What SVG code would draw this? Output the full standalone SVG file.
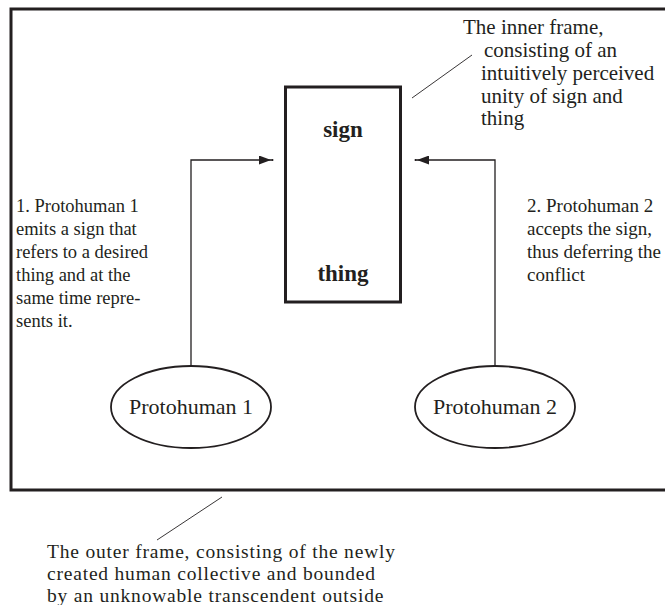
<svg xmlns="http://www.w3.org/2000/svg" width="665" height="605" viewBox="0 0 665 605">
<style>
text{font-family:"Liberation Serif","Times New Roman",serif;fill:#231f20}
.t{font-size:18.5px}
.r{font-size:19px}
.n{font-size:21px}
.o{font-size:19.5px;letter-spacing:0.8px}
.b{font-size:23px;font-weight:bold}
.e{font-size:22px}
.frame{fill:none;stroke:#231f20;stroke-width:3}
.el{fill:none;stroke:#231f20;stroke-width:1.8}
.c{fill:none;stroke:#231f20;stroke-width:1.3}
.l{fill:none;stroke:#231f20;stroke-width:0.9}
</style>
<defs>
<marker id="ah" viewBox="0 0 15 9" refX="14" refY="4.5" markerWidth="15" markerHeight="9" markerUnits="userSpaceOnUse" orient="auto">
<path d="M0,0 L12,4.5 L0,9 Z" fill="#231f20"/>
<circle cx="13.5" cy="4.5" r="1" fill="#231f20"/>
</marker>
</defs>
<g id="outer-frame">
<rect class="frame" x="11" y="9" width="680" height="481"/>
</g>
<g id="inner-frame">
<rect class="frame" x="285.5" y="87" width="115" height="215"/>
<text class="b" x="343" y="137" text-anchor="middle">sign</text>
<text class="b" x="343" y="281" text-anchor="middle">thing</text>
</g>
<g id="protohuman1">
<ellipse class="el" cx="191" cy="407" rx="80" ry="41"/>
<text class="e" x="191" y="414" text-anchor="middle">Protohuman 1</text>
</g>
<g id="protohuman2">
<ellipse class="el" cx="495" cy="407" rx="80" ry="41"/>
<text class="e" x="495" y="414" text-anchor="middle">Protohuman 2</text>
</g>
<g id="connectors">
<polyline class="c" points="191,366 191,160 273,160" marker-end="url(#ah)"/>
<polyline class="c" points="495,366 495,160 415,160" marker-end="url(#ah)"/>
<line class="l" x1="412" y1="98" x2="472" y2="55"/>
<line class="l" x1="222" y1="497" x2="157" y2="540"/>
</g>
<g id="label-left">
<text class="t" x="16" y="212">1. Protohuman 1</text>
<text class="t" x="16" y="235">emits a sign that</text>
<text class="t" x="16" y="258">refers to a desired</text>
<text class="t" x="16" y="281">thing and at the</text>
<text class="t" x="16" y="304">same time repre-</text>
<text class="t" x="16" y="327">sents it.</text>
</g>
<g id="label-right">
<text class="r" x="527" y="212">2. Protohuman 2</text>
<text class="r" x="527" y="235">accepts the sign,</text>
<text class="r" x="527" y="258">thus deferring the</text>
<text class="r" x="527" y="281">conflict</text>
</g>
<g id="label-inner">
<text class="n" x="463" y="34">The inner frame,</text>
<text class="n" x="484" y="57">consisting of an</text>
<text class="n" x="481" y="80">intuitively perceived</text>
<text class="n" x="481" y="103">unity of sign and</text>
<text class="n" x="481" y="125">thing</text>
</g>
<g id="label-outer">
<text class="o" x="47" y="558">The outer frame, consisting of the newly</text>
<text class="o" x="47" y="580">created human collective and bounded</text>
<text class="o" x="47" y="602">by an unknowable transcendent outside</text>
</g>
</svg>
